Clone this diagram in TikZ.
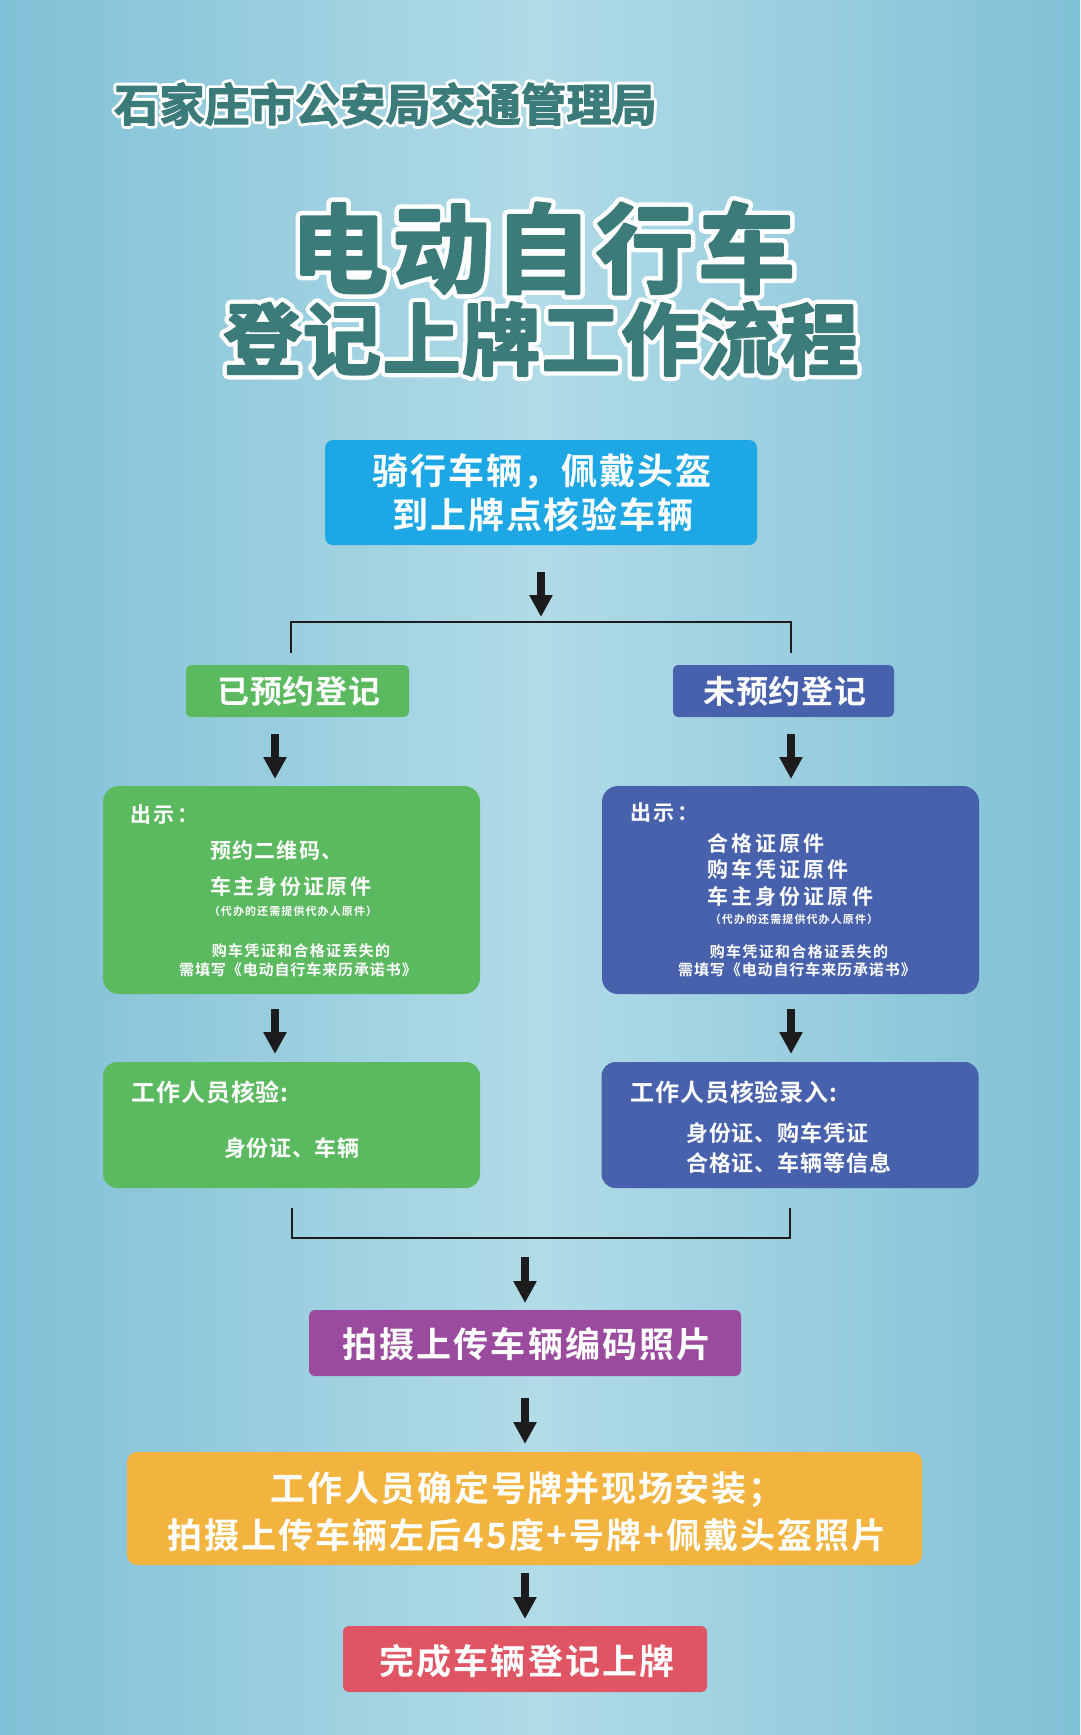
\documentclass[tikz,border=0pt]{standalone}
\usepackage{fontspec}
\setmainfont{Noto Sans CJK SC}[BoldFont={Noto Sans CJK SC Bold}]
\usetikzlibrary{arrows.meta}
\definecolor{bgmid}{HTML}{B1DBE7}
\definecolor{bgedge}{HTML}{80C0D6}
\definecolor{cyanbox}{HTML}{1DA8E5}
\definecolor{greenbox}{HTML}{5BBA5F}
\definecolor{bluebox}{HTML}{4761AC}
\definecolor{purplebox}{HTML}{9A4B9E}
\definecolor{orangebox}{HTML}{F2B43E}
\definecolor{redbox}{HTML}{E05563}
\definecolor{titleteal}{HTML}{3B7C7B}
\definecolor{arrowblack}{HTML}{1C1C1E}
\newcommand\fsz[2]{\fontsize{#1}{#1}\selectfont\addfontfeature{LetterSpace=#2}}
% outlined text: #1 white stroke width, #2 embolden width, #3 text
\newcommand\outl[3]{\rlap{\special{pdf:literal direct 1 Tr #1 w 1 j 1 1 1 RG}#3\special{pdf:literal direct 0 Tr}}\special{pdf:literal direct 2 Tr #2 w 1 j 0.231 0.486 0.482 RG}#3\special{pdf:literal direct 0 Tr}}
\tikzset{
  box/.style={rounded corners=#1, draw=none, inner sep=0pt, outer sep=0pt},
  txt/.style={text=white, inner sep=0pt, font=\bfseries},
  flowarrow/.style={draw=arrowblack, line width=8pt, -{Triangle[width=22pt,length=22pt]}},
  bracket/.style={draw=arrowblack, line width=2.5pt},
  titletxt/.style={text=titleteal, inner sep=0pt, font=\bfseries}
}
\begin{document}
\begin{tikzpicture}[x=1pt,y=-1pt]
\useasboundingbox (0,0) rectangle (1080,1735);
\shade[left color=bgedge, right color=bgedge, middle color=bgmid] (0,0) rectangle (1080,1735);

% header and title
\node[titletxt, anchor=west, font=\bfseries\fsz{45}{0.5}] (hdr) at (114,104) {\outl{7}{1.2}{石家庄市公安局交通管理局}};
\node[titletxt, font=\bfseries\fsz{97}{5}] (t1) at (543,248) {\outl{12}{3}{电动自行车}};
\node[titletxt, font=\bfseries\fsz{78}{2}] (t2) at (541,339) {\outl{11}{2.5}{登记上牌工作流程}};

% boxes
\node[box=8pt, fill=cyanbox, minimum width=432pt, minimum height=105pt] (b1) at (541,492.5) {};
\node[box=5pt, fill=greenbox, minimum width=223pt, minimum height=52pt] (g0) at (297.5,691) {};
\node[box=5pt, fill=bluebox, minimum width=221pt, minimum height=52pt] (u0) at (783.5,691) {};
\node[box=16pt, fill=greenbox, minimum width=377pt, minimum height=208pt] (g1) at (291.5,890) {};
\node[box=16pt, fill=bluebox, minimum width=377pt, minimum height=208pt] (u1) at (790.5,890) {};
\node[box=14pt, fill=greenbox, minimum width=377pt, minimum height=126pt] (g2) at (291.5,1125) {};
\node[box=14pt, fill=bluebox, minimum width=377pt, minimum height=126pt] (u2) at (790,1125) {};
\node[box=6pt, fill=purplebox, minimum width=432pt, minimum height=66pt] (pb) at (525,1343) {};
\node[box=10pt, fill=orangebox, minimum width=795pt, minimum height=113pt] (ob) at (524.5,1508.5) {};
\node[box=6pt, fill=redbox, minimum width=364pt, minimum height=66pt] (rb) at (525,1659) {};

% box texts
\node[txt, font=\bfseries\fsz{36}{5}] (b1a) at (542,472) {骑行车辆，佩戴头盔};
\node[txt, font=\bfseries\fsz{36}{5}] (b1b) at (543,515) {到上牌点核验车辆};
\node[txt, font=\bfseries\fsz{32}{3}] (g0t) at (299,691) {已预约登记};
\node[txt, font=\bfseries\fsz{32}{3}] (u0t) at (785,691) {未预约登记};

\node[txt, anchor=west, font=\bfseries\fsz{21}{12}] (g1a) at (130,815) {出示：};
\node[txt, anchor=west, font=\bfseries\fsz{21}{6}] (g1b) at (210,851) {预约二维码、};
\node[txt, anchor=west, font=\bfseries\fsz{21}{11}] (g1c) at (210,886) {车主身份证原件};
\node[txt, font=\bfseries\fsz{11}{10}] (g1d) at (293,911) {（代办的还需提供代办人原件）};
\node[txt, font=\bfseries\fsz{15}{9}] (g1e) at (301,951) {购车凭证和合格证丢失的};
\node[txt, font=\bfseries\fsz{15}{6}] (g1f) at (298,970) {需填写《电动自行车来历承诺书》};

\node[txt, anchor=west, font=\bfseries\fsz{21}{12}] (u1a) at (630,813) {出示：};
\node[txt, anchor=west, font=\bfseries\fsz{21}{15}] (u1b) at (707,843) {合格证原件};
\node[txt, anchor=west, font=\bfseries\fsz{21}{15}] (u1c) at (707,869) {购车凭证原件};
\node[txt, anchor=west, font=\bfseries\fsz{21}{15}] (u1d) at (707,896) {车主身份证原件};
\node[txt, font=\bfseries\fsz{11}{10}] (u1e) at (794,919) {（代办的还需提供代办人原件）};
\node[txt, font=\bfseries\fsz{15}{9}] (u1f) at (799,952) {购车凭证和合格证丢失的};
\node[txt, font=\bfseries\fsz{15}{6}] (u1g) at (797,970) {需填写《电动自行车来历承诺书》};

\node[txt, anchor=west, font=\bfseries\fsz{24}{4}] (g2a) at (131,1092) {工作人员核验:};
\node[txt, font=\bfseries\fsz{22}{3}] (g2b) at (292,1148) {身份证、车辆};
\node[txt, anchor=west, font=\bfseries\fsz{24}{4}] (u2a) at (630,1092) {工作人员核验录入:};
\node[txt, anchor=west, font=\bfseries\fsz{22}{4}] (u2b) at (686,1133) {身份证、购车凭证};
\node[txt, anchor=west, font=\bfseries\fsz{22}{4}] (u2c) at (686,1163) {合格证、车辆等信息};

\node[txt, font=\bfseries\fsz{35}{6}] (pt) at (527,1344) {拍摄上传车辆编码照片};
\node[txt, font=\bfseries\fsz{35}{5}] (oa) at (527,1490) {工作人员确定号牌并现场安装；};
\node[txt, font=\bfseries\fsz{35}{6}] (ob2) at (527,1535) {拍摄上传车辆左后45度+号牌+佩戴头盔照片};
\node[txt, font=\bfseries\fsz{35}{6}] (rt) at (527,1661) {完成车辆登记上牌};

% connector coordinates
\coordinate (a1s) at (541,572);  \coordinate (a1e) at (541,617);
\coordinate (brL) at (291,653);  \coordinate (brLt) at (291,622);
\coordinate (brR) at (791,653);  \coordinate (brRt) at (791,622);
\coordinate (a2Ls) at (275,734); \coordinate (a2Le) at (275,779);
\coordinate (a2Rs) at (791,734); \coordinate (a2Re) at (791,779);
\coordinate (a3Ls) at (275,1009); \coordinate (a3Le) at (275,1054);
\coordinate (a3Rs) at (791,1009); \coordinate (a3Re) at (791,1054);
\coordinate (bbL) at (292,1208); \coordinate (bbLb) at (292,1238);
\coordinate (bbR) at (790,1208); \coordinate (bbRb) at (790,1238);
\coordinate (a4s) at (525,1257); \coordinate (a4e) at (525,1303);
\coordinate (a5s) at (525,1398); \coordinate (a5e) at (525,1444);
\coordinate (a6s) at (525,1573); \coordinate (a6e) at (525,1619);

\draw[flowarrow] (a1s) -- (a1e);
\draw[bracket] (brL) -- (brLt) -- (brRt) -- (brR);
\draw[flowarrow] (a2Ls) -- (a2Le);
\draw[flowarrow] (a2Rs) -- (a2Re);
\draw[flowarrow] (a3Ls) -- (a3Le);
\draw[flowarrow] (a3Rs) -- (a3Re);
\draw[bracket] (bbL) -- (bbLb) -- (bbRb) -- (bbR);
\draw[flowarrow] (a4s) -- (a4e);
\draw[flowarrow] (a5s) -- (a5e);
\draw[flowarrow] (a6s) -- (a6e);
\end{tikzpicture}
\end{document}
